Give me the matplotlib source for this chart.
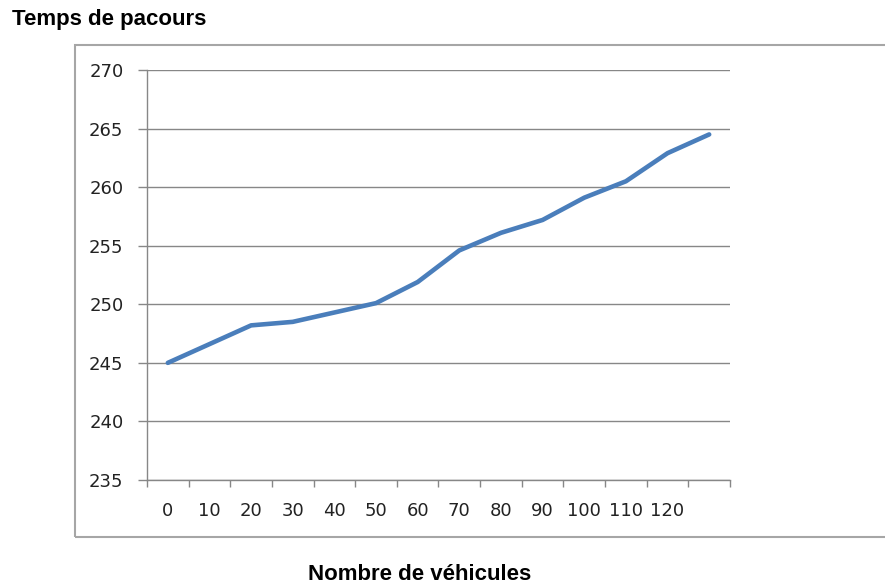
import matplotlib
matplotlib.use('Agg')
import matplotlib.pyplot as plt
from matplotlib.patches import Rectangle
import numpy as np

# travel time per number of vehicles
vehicle_labels = ['0', '10', '20', '30', '40', '50', '60', '70', '80', '90', '100', '110', '120', '']
travel_time = [245.0, 246.6, 248.2, 248.5, 249.3, 250.1, 251.9, 254.6, 256.1, 257.2, 259.1, 260.5, 262.9, 264.5]
y_ticks = [235, 240, 245, 250, 255, 260, 265, 270]

W, H = 885, 587
fig = plt.figure(figsize=(W / 100, H / 100), dpi=100)

# outer chart frame
fig.patches.append(Rectangle((75 / W, 1 - 537 / H), (900 - 75) / W, (537 - 45) / H,
                             transform=fig.transFigure, fill=False,
                             edgecolor='#a6a6a6', linewidth=1.5))

ax = fig.add_axes([147 / W, 1 - 480 / H, (730 - 147) / W, (480 - 70) / H])

x = np.arange(len(travel_time))
ax.plot(x, travel_time, color='#4a7ebb', linewidth=3.3, solid_capstyle='round', zorder=3)

grid_color = '#878787'
ax.set_xlim(-0.5, len(travel_time) - 0.5)
ax.set_ylim(235, 270)
ax.set_yticks(y_ticks)
ax.yaxis.grid(True, color=grid_color, linewidth=1.0)
ax.set_axisbelow(True)

# category labels sit between the tick marks
ax.set_xticks(x)
ax.set_xticklabels(vehicle_labels)
ax.tick_params(axis='x', which='major', length=0, pad=16)
ax.set_xticks(np.arange(-0.5, len(travel_time)), minor=True)
ax.tick_params(axis='x', which='minor', length=5, width=1, color=grid_color, direction='out')
ax.tick_params(axis='y', length=6.5, width=1, color=grid_color, pad=10.5)

for lbl in ax.get_xticklabels() + ax.get_yticklabels():
    lbl.set_fontsize(13)
    lbl.set_color('#222222')

for side in ['top', 'right']:
    ax.spines[side].set_visible(False)
for side in ['left', 'bottom']:
    ax.spines[side].set_color(grid_color)
    ax.spines[side].set_linewidth(1.0)

fig.text(12 / W, 1 - 19 / H, 'Temps de pacours', fontsize=16, fontweight='bold',
         family='Liberation Sans', va='center', ha='left')
fig.text(420 / W, 1 - 575 / H, 'Nombre de véhicules', fontsize=16, fontweight='bold',
         family='Liberation Sans', va='center', ha='center')

fig.savefig('out.png', dpi=100)
